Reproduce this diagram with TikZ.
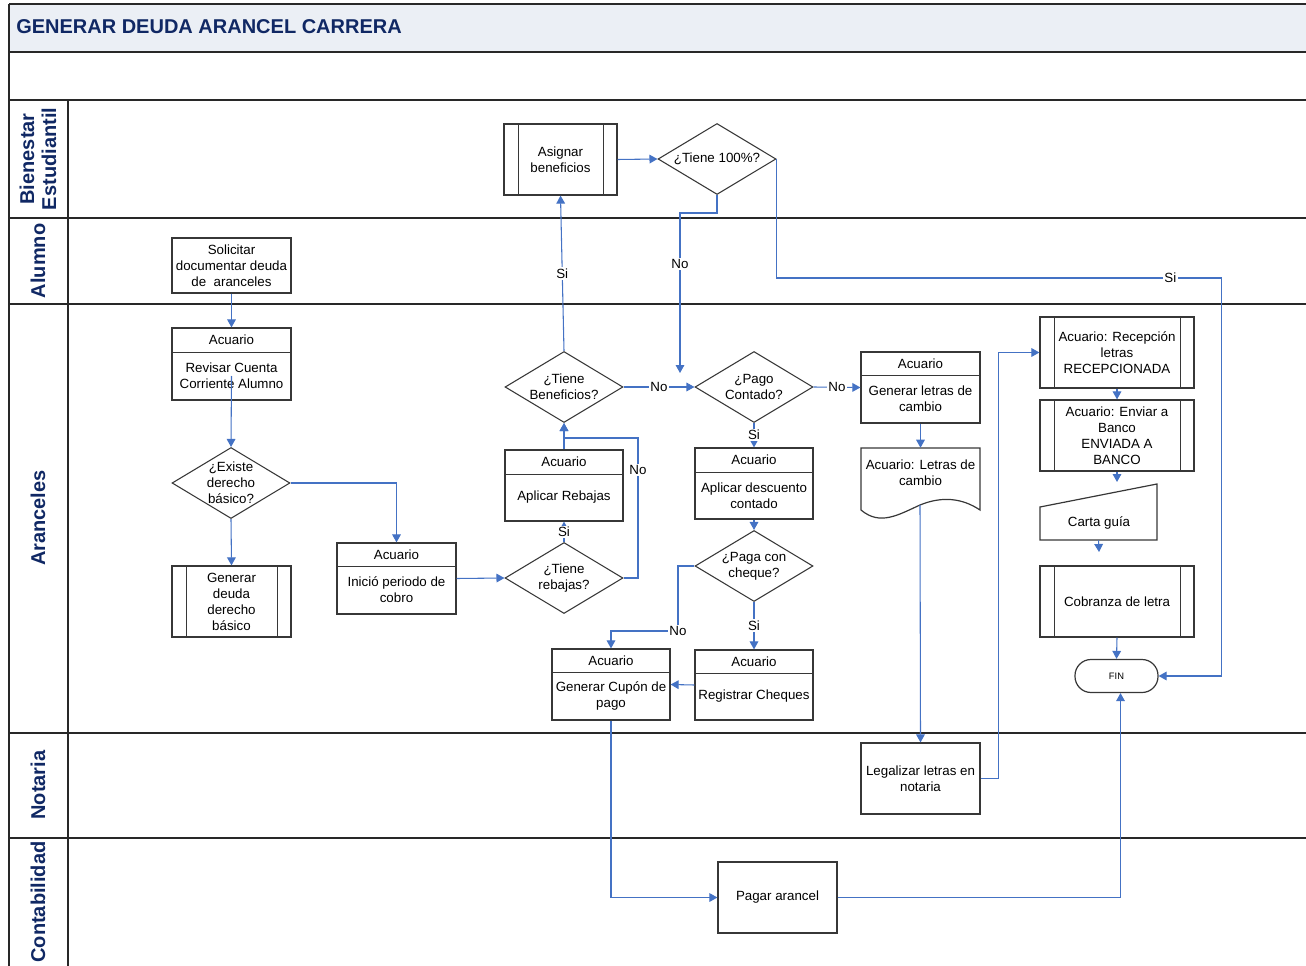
\documentclass[tikz,border=0pt]{standalone}
\usepackage{fontspec}
\setmainfont{Liberation Sans}
\usetikzlibrary{arrows.meta,shapes.geometric}
\definecolor{navy}{RGB}{16,40,100}
\definecolor{flowblue}{RGB}{68,114,196}
\definecolor{boxc}{RGB}{55,55,55}
\definecolor{lanec}{RGB}{40,40,40}
\definecolor{band}{RGB}{235,239,245}
\tikzset{
  lane/.style={draw=lanec, line width=1.2pt},
  box/.style={draw=boxc, line width=0.9pt, rectangle, inner sep=0pt},
  ghost/.style={rectangle, inner sep=0pt},
  inner/.style={draw=boxc, line width=0.7pt},
  dmdshape/.style={draw=boxc, line width=0.8pt, diamond, inner sep=0pt, minimum width=88.5pt, minimum height=53.25pt},
  txt/.style={align=center, font=\fontsize{10}{12}\selectfont, inner sep=0pt},
  lanelbl/.style={rotate=90, align=center, text=navy, font=\fontsize{15}{16.5}\selectfont\bfseries},
  conn/.style={draw=flowblue, line width=0.8pt, -{Triangle[length=6pt,width=6.5pt]}},
  lbl/.style={fill=white, inner sep=1pt, font=\fontsize{10}{12}\selectfont, text=black},
}
% box with "Acuario" header: name, x1, y1, ysplit, x2, y2, body
\newcommand\acbox[7]{%
  \node[box, minimum width={(#5-#2)*0.75pt}, minimum height={(#6-#3)*0.75pt}] (#1) at ({(#2+#5)/2},{(#3+#6)/2}) {};
  \draw[inner] (#2,#4) -- (#5,#4);
  \node[txt] (#1h) at ({(#2+#5)/2},{(#3+#4)/2}) {Acuario};
  \node[txt] (#1b) at ({(#2+#5)/2},{(#4+#6)/2}) {#7};
}
% subprocess: name, x1, y1, x2, y2, text
\newcommand\subp[6]{%
  \node[box, minimum width={(#4-#2)*0.75pt}, minimum height={(#5-#3)*0.75pt}] (#1) at ({(#2+#4)/2},{(#3+#5)/2}) {};
  \draw[inner] ({#2+14},#3) -- ({#2+14},#5);
  \draw[inner] ({#4-14},#3) -- ({#4-14},#5);
  \node[txt] (#1t) at ({(#2+#4)/2},{(#3+#5)/2}) {#6};
}
% plain box: name, x1, y1, x2, y2, text
\newcommand\pbox[6]{%
  \node[box, minimum width={(#4-#2)*0.75pt}, minimum height={(#5-#3)*0.75pt}] (#1) at ({(#2+#4)/2},{(#3+#5)/2}) {};
  \node[txt] (#1t) at ({(#2+#4)/2},{(#3+#5)/2}) {#6};
}
% decision: name, cx, cy, text
\newcommand\dmd[4]{%
  \node[dmdshape] (#1) at (#2,#3) {};
  \node[txt] (#1t) at (#2,#3) {#4};
}
\begin{document}
\begin{tikzpicture}[x=0.75pt,y=-0.75pt]
\useasboundingbox (0,0) rectangle (1306,966);
% frame and lanes
\fill[band] (9,4) rectangle (1306,52);
\draw[lane] (9,4) -- (1306,4);
\foreach \yy in {52,100,218,304,733,838} \draw[lane] (9,\yy) -- (1306,\yy);
\draw[lane] (9,4) -- (9,966);
\draw[lane] (68,100) -- (68,966);
\node[anchor=west, inner sep=0pt, text=navy, font=\fontsize{15}{18}\selectfont\bfseries] (title) at (16,27) {GENERAR DEUDA ARANCEL CARRERA};
\node[lanelbl] (l1) at (38,159) {Bienestar\\Estudiantil};
\node[lanelbl] (l2) at (38,261) {Alumno};
\node[lanelbl] (l3) at (38,518) {Aranceles};
\node[lanelbl] (l4) at (38,785) {Notaria};
\node[lanelbl] (l5) at (38,902) {Contabilidad};

% nodes
\subp{asig}{504}{124}{617}{195}{Asignar\\beneficios}
\dmd{t100}{717}{159}{¿Tiene 100\%?}
\pbox{sol}{172}{238}{291}{293}{Solicitar\\documentar deuda\\de\ \ aranceles}
\acbox{rev}{172}{328}{352}{291}{400}{Revisar Cuenta\\Corriente Alumno}
\dmd{exist}{231}{483}{¿Existe\\derecho\\básico?}
\subp{gder}{172}{566}{291}{637}{Generar\\deuda\\derecho\\básico}
\acbox{inic}{337}{543}{566}{456}{614}{Inició periodo de\\cobro}
\dmd{treb}{564}{578}{¿Tiene\\rebajas?}
\acbox{rebaj}{505}{450}{474}{623}{521}{Aplicar Rebajas}
\dmd{tben}{564}{387}{¿Tiene\\Beneficios?}
\dmd{pago}{754}{387}{¿Pago\\Contado?}
\acbox{desc}{695}{448}{472}{813}{519}{Aplicar descuento\\contado}
\dmd{cheq}{754}{566}{¿Paga con\\cheque?}
\acbox{regc}{695}{650}{673}{813}{720}{Registrar Cheques}
\acbox{cupon}{552}{649}{672}{670}{720}{Generar Cupón de\\pago}
\acbox{letras}{861}{352}{375}{980}{423}{Generar letras de\\cambio}
% document shape
\node[ghost, minimum width=89.25pt, minimum height=54pt] (doc) at (920.5,484) {};
\draw[boxc, line width=0.9pt] (861,448) -- (980,448) -- (980,510)
  .. controls (962,498) and (942,496) .. (920,505)
  .. controls (898,515) and (880,526) .. (861,510) -- cycle;
\node[txt] (doct) at (920.5,473) {Acuario: Letras de\\cambio};
\coordinate (docw) at (920,505);
\pbox{legal}{861}{743}{980}{814}{Legalizar letras en\\notaria}
\subp{recep}{1040}{317}{1194}{388}{Acuario: Recepción\\letras\\RECEPCIONADA}
\subp{envi}{1040}{400}{1194}{471}{Acuario: Enviar a\\Banco\\ENVIADA A\\BANCO}
% manual input
\node[ghost, minimum width=87.75pt, minimum height=42pt] (carta) at (1098.5,512) {};
\draw[boxc, line width=0.9pt] (1040,507) -- (1157,484) -- (1157,540) -- (1040,540) -- cycle;
\node[txt] (cartat) at (1099,523) {Carta guía};
\subp{cobr}{1040}{566}{1194}{637}{Cobranza de letra}
\node[draw=boxc, line width=0.9pt, rounded corners=12pt, minimum width=62.25pt, minimum height=24.75pt, inner sep=0pt, font=\fontsize{7}{8}\selectfont] (fin) at (1116.5,676) {FIN};
\pbox{pagar}{718}{862}{837}{933}{Pagar arancel}

% connectors
\draw[conn] (sol.south) -- (rev.north);
\draw[conn] (revb.center) -- (exist.north);
\draw[conn] (exist.south) -- (gder.north);
\draw[conn] (exist.east) -| (inic.north);
\draw[conn] (inic.east) -- (treb.west);
\draw[conn] (treb.north) -- node[lbl]{Si} (rebaj.south);
\coordinate (rb) at (638,438);
\draw[conn] (treb.east) -| node[lbl,pos=0.885]{No} (rb) -- (rb -| tben.south) -- (tben.south);
\draw[conn] (rebaj.north) -- (tben.south);
\draw[conn] (tben.north) -- node[lbl]{Si} (asig.south);
\draw[conn] (tben.east) -- node[lbl]{No} (pago.west);
\draw[conn] (asig.east) -- (t100.west);
\coordinate (noend) at (680,373);
\draw[conn] (t100.south) -- ++(0,18) -| node[lbl,pos=0.66]{No} (noend);
\draw[conn] (t100.east) -- ++(0,119) -- node[lbl,pos=0.885]{Si} ++(445,0) |- (fin.east);
\draw[conn] (pago.east) -- node[lbl]{No} (letras.west);
\draw[conn] (pago.south) -- node[lbl]{Si} (desc.north);
\draw[conn] (desc.south) -- (cheq.north);
\draw[conn] (cheq.south) -- node[lbl]{Si} (regc.north);
\coordinate (nc) at (678,631);
\draw[conn] (cheq.west) -| node[lbl,pos=1]{No} (nc) -| (cupon.north);
\draw[conn] (regc.west) -- (cupon.east);
\draw[conn] (cupon.south) |- (pagar.west);
\draw[conn] (pagar.east) -| ([xshift=3pt]fin.south);
\draw[conn] (letras.south) -- (doc.north);
\draw[conn] (docw) -- (legal.north);
\draw[conn] (legal.east) -- ++(18,0) |- (recep.west);
\draw[conn] (recep.south) -- (envi.north);
\coordinate (cartaend) at (1117,482);
\draw[conn] (envi.south) -- (cartaend);
\coordinate (cartaarr) at (1099,552);
\draw[conn] (carta.south) -- (cartaarr);
\draw[conn] (cobr.south) -- (fin.north);
\end{tikzpicture}
\end{document}
